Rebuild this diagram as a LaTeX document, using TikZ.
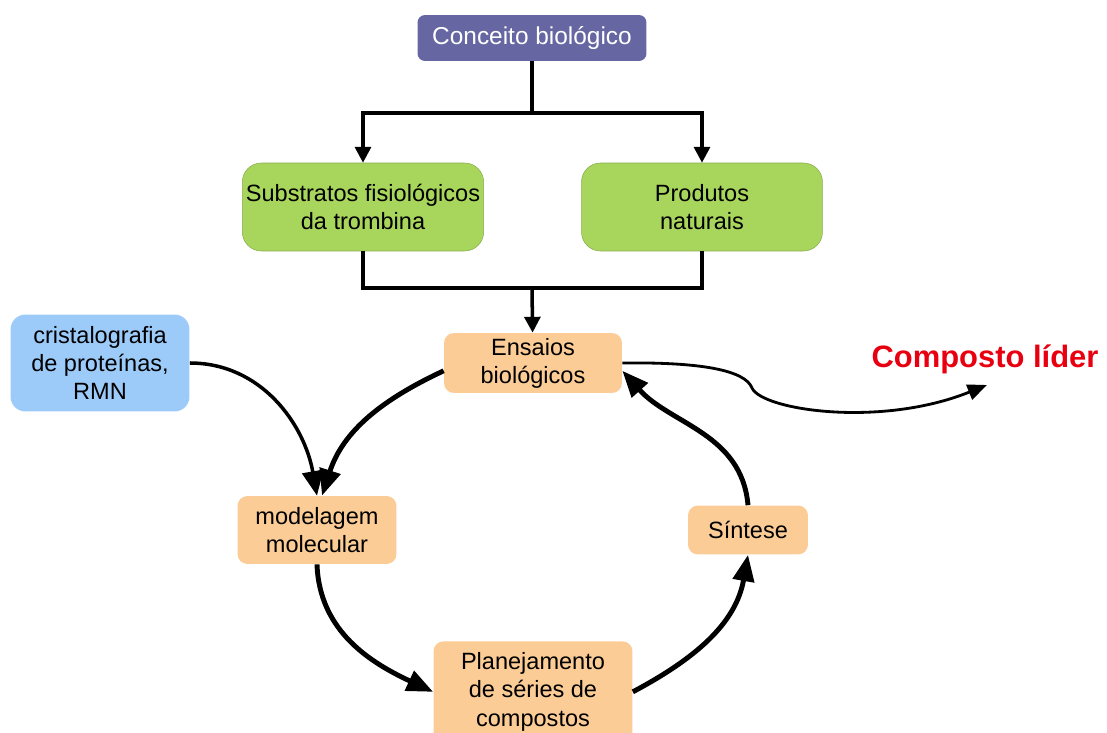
\documentclass[tikz,border=0pt]{standalone}
\usepackage{fontspec}
\setmainfont{Liberation Sans}
\usetikzlibrary{arrows.meta, positioning}

\definecolor{conceptblue}{RGB}{102,102,163}
\definecolor{leafgreen}{RGB}{168,214,92}
\definecolor{peach}{RGB}{251,204,150}
\definecolor{skyblue}{RGB}{156,203,250}
\definecolor{leadred}{RGB}{232,0,16}

\begin{document}
\begin{tikzpicture}[x=0.02cm, y=0.02cm,
    every node/.style={font=\fontsize{13.4}{16}\selectfont, align=center, inner sep=2pt},
    box/.style={rounded corners=0.2cm, minimum width=#1},
    concept/.style={box=4.58cm, fill=conceptblue, text=white, minimum height=0.92cm, rounded corners=0.15cm, font=\fontsize{13.9}{16}\selectfont},
    source/.style={box=4.82cm, fill=leafgreen, draw=leafgreen!80!black, line width=0.3pt, minimum height=1.76cm, rounded corners=0.38cm},
    stage/.style={box=#1, fill=peach},
    tree/.style={line width=2pt},
    tip/.style={-{Triangle[length=9pt, width=9pt]}},
    loop arc/.style={line width=2.8pt, -{Triangle[length=15pt, width=12pt]}}]

    \useasboundingbox (0,0) rectangle (1107,-733);

    \node [concept] (concept) at (532,-38) {Conceito biológico};
    \node [source] (subst) at (363,-207) {Substratos fisiológicos\\da trombina};
    \node [source] (prod) at (702,-207) {Produtos\\naturais};
    \node [stage=3.56cm, minimum height=1.2cm] (ensaios) at (533,-363) {Ensaios\\biológicos};
    \node [box=3.58cm, fill=skyblue, minimum height=1.94cm, rounded corners=0.3cm] (cristal) at (100,-363) {cristalografia\\de proteínas,\\RMN};
    \node [stage=3.18cm, minimum height=1.36cm] (modelagem) at (317,-530) {modelagem\\molecular};
    \node [stage=2.4cm, minimum height=0.98cm] (sintese) at (748,-530) {Síntese};
    \node [stage=3.98cm, minimum height=2.02cm, anchor=north] (planej) at (533,-641) {Planejamento\\de séries de\\compostos};
    \node [text=leadred, font=\fontsize{17.6}{20}\selectfont\bfseries] (lider) at (985,-359) {Composto líder};

    \coordinate (split) at (532,-113);
    \coordinate (join) at (532,-288);
    \coordinate (leadtip) at (987,-385);

    % ramificacao superior
    \draw [tree] (concept) -- (split);
    \draw [tree, tip] (split) -| (subst);
    \draw [tree, tip] (split) -| (prod);
    \draw [tree] (subst) |- (join) -| (prod);
    \draw [tree, tip] (join) -- (ensaios);

    % ciclo
    \path [loop arc]
      (ensaios.185) edge[out=205, in=72] ([xshift=0.1cm]modelagem.north)
      (modelagem.south) edge[out=-88, in=155] (planej.west)
      (planej.east) edge[out=28, in=-100] (sintese.south)
      (sintese.north) edge[out=95, in=-48] (ensaios.-5);
    \draw [line width=2pt, -{Triangle[length=14pt, width=12pt]}]
      (cristal.east) to[out=0, in=100] (modelagem.north);

    \draw [line width=1.6pt, -{Triangle[length=11pt, width=9pt]}]
      (ensaios.east) .. controls (700,-362) and (745,-370) .. (752,-388)
      .. controls (762,-410) and (880,-428) .. (leadtip);
\end{tikzpicture}
\end{document}
